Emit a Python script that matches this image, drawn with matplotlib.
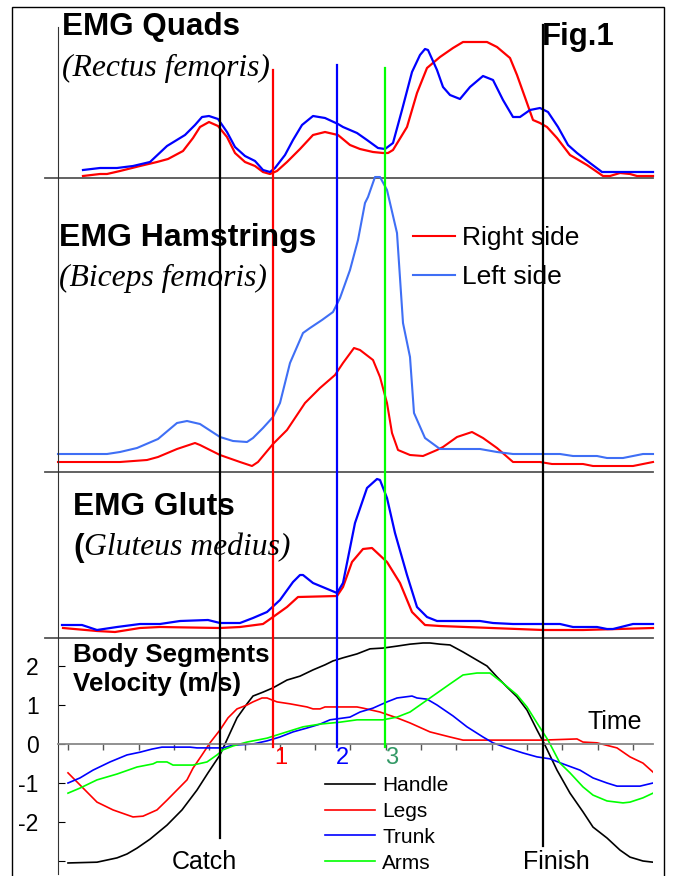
import matplotlib
matplotlib.use("Agg")
import numpy as np
import matplotlib.pyplot as plt
import matplotlib.transforms as mtransforms
from matplotlib.lines import Line2D
from matplotlib.patches import Rectangle

plt.rcParams['font.family'] = ['Liberation Sans', 'DejaVu Sans']

# time in samples (first x tick at 0, one tick every 35.3 samples)
# EMG amplitudes in arbitrary units, velocities in m/s

quads_right_t = [15, 32, 39, 52, 72, 89, 100, 115, 125, 132, 141, 150, 159, 167, 177, 187, 195, 202, 209, 219,
                 232, 245, 257, 270, 282, 292, 305, 315, 320, 325, 339, 349, 359, 372, 385, 395, 419, 429, 442, 449,
                 459, 465, 472, 479, 489, 502, 519, 535, 542, 552, 562, 569, 585]
quads_right = [2, 4, 4, 7, 12, 16, 19, 27, 40, 51, 56, 52, 41, 25, 16, 12, 6, 4, 7, 16,
               29, 43, 46, 43, 33, 29, 26, 25, 25, 28, 51, 85, 110, 121, 130, 136, 136, 131, 120, 103,
               75, 58, 55, 51, 40, 23, 13, 2, 2, 5, 4, 2, 2]

quads_left_t = [15, 32, 49, 65, 82, 99, 117, 127, 134, 141, 150, 159, 167, 177, 187, 195, 202, 207, 217, 225,
                234, 245, 257, 270, 275, 289, 299, 310, 317, 325, 334, 344, 352, 357, 360, 369, 375, 382, 392, 402,
                415, 425, 435, 445, 452, 462, 472, 480, 490, 500, 509, 522, 534, 549, 585]
quads_left = [8, 10, 10, 12, 16, 32, 43, 53, 61, 62, 59, 46, 31, 22, 17, 8, 6, 10, 23, 38,
              53, 62, 60, 54, 51, 45, 38, 30, 29, 35, 68, 106, 123, 129, 128, 108, 91, 83, 79, 91,
              102, 98, 78, 61, 61, 68, 70, 66, 51, 33, 25, 15, 6, 6, 6]

ham_right_t = [-10, 52, 79, 90, 109, 127, 132, 152, 172, 184, 190, 205, 219, 237, 252, 267, 275, 286, 292, 305,
               312, 319, 324, 330, 342, 355, 369, 375, 389, 404, 415, 429, 445, 472, 484, 515, 525, 565, 585]
ham_right = [10, 10, 12, 15, 23, 29, 27, 17, 10, 6, 10, 28, 42, 69, 84, 97, 109, 124, 122, 112,
             95, 69, 39, 22, 17, 16, 22, 25, 35, 40, 34, 24, 10, 10, 8, 8, 6, 6, 10]

ham_left_t = [-10, 39, 52, 69, 90, 109, 119, 132, 152, 165, 179, 185, 195, 205, 212, 222, 235, 242, 254, 265,
              272, 282, 290, 297, 300, 307, 312, 319, 329, 335, 342, 346, 357, 372, 412, 429, 445, 492, 505, 529,
              539, 555, 575, 585]
ham_left = [18, 18, 20, 24, 33, 49, 51, 48, 35, 31, 30, 34, 44, 55, 69, 109, 139, 144, 152, 160,
            174, 202, 232, 269, 275, 295, 295, 282, 239, 149, 115, 59, 34, 23, 23, 20, 18, 18, 16, 16,
            14, 14, 18, 18]

glut_right_t = [-5, 29, 47, 72, 92, 152, 172, 195, 205, 219, 230, 269, 275, 284, 295, 304, 319, 332, 344, 357,
                372, 475, 515, 585]
glut_right = [10, 7, 6, 10, 11, 10, 11, 14, 21, 31, 41, 42, 51, 76, 89, 90, 76, 55, 26, 13,
              12, 8, 8, 10]

glut_left_t = [-6, 14, 29, 49, 72, 92, 112, 140, 152, 172, 185, 199, 212, 225, 232, 235, 245, 257, 269, 275,
               287, 299, 309, 312, 319, 327, 339, 349, 359, 369, 412, 425, 445, 492, 505, 529, 539, 545, 565, 585]
glut_left = [13, 13, 8, 11, 14, 14, 17, 18, 15, 15, 20, 26, 38, 56, 63, 63, 55, 50, 45, 55,
             115, 150, 159, 158, 140, 105, 63, 31, 21, 17, 17, 15, 14, 14, 11, 11, 9, 9, 14, 14]

handle_t = [0, 29, 49, 59, 69, 82, 99, 114, 129, 140, 152, 162, 169, 179, 185, 195, 205, 219, 232, 245,
            257, 265, 275, 289, 302, 315, 329, 342, 355, 362, 372, 382, 395, 409, 419, 429, 439, 449, 459, 469,
            477, 489, 502, 515, 525, 539, 552, 562, 575, 585]
handle_v = [-3.05, -3.03, -2.92, -2.82, -2.67, -2.44, -2.08, -1.69, -1.18, -0.74, -0.28, 0.28, 0.67, 1.03, 1.23,
            1.33, 1.44, 1.64, 1.74, 1.90, 2.03, 2.13, 2.21, 2.31, 2.44, 2.46, 2.51, 2.56, 2.59, 2.59,
            2.56, 2.54, 2.36, 2.15, 2.00, 1.72, 1.46, 1.21, 0.87, 0.36, -0.03, -0.67, -1.26, -1.74, -2.13,
            -2.41, -2.72, -2.90, -3.00, -3.03]

legs_t = [0, 12, 29, 45, 65, 75, 89, 99, 109, 119, 125, 134, 142, 152, 160, 169, 179, 185, 194, 199,
          209, 222, 239, 245, 252, 257, 289, 295, 312, 329, 342, 362, 382, 395, 475, 509, 515, 529, 549, 562,
          575, 585]
legs_v = [-0.74, -1.05, -1.49, -1.69, -1.87, -1.85, -1.69, -1.44, -1.18, -0.92, -0.62, -0.28, 0.03, 0.36, 0.67,
          0.90, 1.00, 1.08, 1.18, 1.18, 1.08, 1.03, 0.95, 0.90, 0.90, 0.95, 0.95, 0.92, 0.82, 0.67,
          0.54, 0.31, 0.18, 0.10, 0.10, 0.13, 0.05, 0.03, -0.10, -0.33, -0.49, -0.72]

trunk_t = [0, 12, 25, 42, 59, 72, 84, 94, 122, 129, 155, 165, 185, 199, 212, 225, 239, 252, 262, 282,
           292, 305, 319, 329, 344, 349, 359, 369, 385, 399, 415, 425, 439, 455, 469, 482, 495, 512, 525, 539,
           549, 572, 585]
trunk_v = [-1.00, -0.87, -0.67, -0.46, -0.28, -0.21, -0.13, -0.08, -0.08, -0.10, -0.10, -0.03, 0.00, 0.08, 0.18,
           0.31, 0.41, 0.51, 0.62, 0.69, 0.82, 0.92, 1.08, 1.18, 1.23, 1.18, 1.15, 1.00, 0.72, 0.44,
           0.18, 0.03, -0.10, -0.23, -0.33, -0.38, -0.51, -0.67, -0.87, -1.00, -1.08, -1.08, -1.00]

arms_t = [0, 12, 29, 49, 69, 85, 89, 99, 105, 125, 139, 149, 155, 165, 179, 199, 215, 235, 252, 272,
          289, 315, 329, 342, 362, 382, 395, 409, 422, 435, 449, 459, 469, 480, 492, 502, 515, 525, 539, 555,
          562, 575, 585]
arms_v = [-1.26, -1.13, -0.92, -0.77, -0.59, -0.51, -0.46, -0.46, -0.54, -0.54, -0.46, -0.28, -0.15, -0.05, 0.05,
          0.15, 0.28, 0.44, 0.51, 0.56, 0.62, 0.62, 0.69, 0.82, 1.18, 1.54, 1.77, 1.82, 1.82, 1.56,
          1.26, 0.95, 0.54, 0.10, -0.49, -0.74, -1.10, -1.31, -1.46, -1.51, -1.49, -1.38, -1.26]

# stroke events: catch, markers 1-3, finish
event_t = [152, 205, 269, 317, 475]
event_colors = ['black', '#FF0000', '#0000FF', '#00FF00', 'black']
event_top_px = [75, 70, 65, 68, 25]
event_bottom_px = [838, 747, 747, 747, 846]

vel_ticks = [2, 1, 0, -1, -2, -3]
vel_ticklabels = ['2', '1', '0', '-1', '-2', '']

RED = '#FF0000'
BLUE = '#0000FF'
LIGHTBLUE = '#3F6FF5'
GREEN = '#00FF00'
GRAY = '#555555'

W, H = 674, 876
fig = plt.figure(figsize=(W / 100, H / 100), dpi=100)


def fx(px):
    return px / W


def fy(py):
    return 1 - py / H


def box(top, bottom):
    return [fx(58), fy(bottom), fx(653) - fx(58), (bottom - top) / H]


ax_q = fig.add_axes(box(27, 178))
ax_h = fig.add_axes(box(178, 472))
ax_g = fig.add_axes(box(472, 638))
ax_v = fig.add_axes(box(638, 874))

for ax, top in ((ax_q, 151), (ax_h, 294), (ax_g, 166)):
    ax.set_xlim(-10, 585)
    ax.set_ylim(0, top)
    ax.set_facecolor('none')
    for side in ('top', 'right', 'bottom'):
        ax.spines[side].set_visible(False)
    ax.spines['left'].set_color('#333333')
    ax.spines['left'].set_linewidth(0.8)
    ax.set_xticks([])
    ax.set_yticks([])
    ax.axhline(0, xmin=-13 / 595, xmax=1, color=GRAY, lw=1.3, clip_on=False, zorder=1)

ax_q.plot(quads_right_t, quads_right, color=RED, lw=1.6, clip_on=False)
ax_q.plot(quads_left_t, quads_left, color=BLUE, lw=1.6, clip_on=False)

l_right, = ax_h.plot(ham_right_t, ham_right, color=RED, lw=1.5, clip_on=False)
l_left, = ax_h.plot(ham_left_t, ham_left, color=LIGHTBLUE, lw=1.5, clip_on=False)

ax_g.plot(glut_right_t, glut_right, color=RED, lw=1.6, clip_on=False)
ax_g.plot(glut_left_t, glut_left, color=BLUE, lw=1.6, clip_on=False)

# velocity panel
ax_v.set_facecolor('none')
ax_v.set_xlim(-10, 585)
ax_v.set_ylim(-3.333, 2.718)
for side in ('top', 'right'):
    ax_v.spines[side].set_visible(False)
ax_v.spines['left'].set_color('#333333')
ax_v.spines['left'].set_linewidth(0.8)
ax_v.spines['bottom'].set_position(('data', 0))
ax_v.spines['bottom'].set_color('#888888')
ax_v.spines['bottom'].set_linewidth(1.3)
ax_v.set_xticks(np.arange(17) * 35.3)
ax_v.tick_params(axis='x', direction='out', length=4, width=1, color='#555555', labelbottom=False)
ax_v.set_yticks(vel_ticks)
ax_v.set_yticklabels(vel_ticklabels)
ax_v.tick_params(axis='y', direction='in', length=5, width=0.8, pad=14, labelsize=16.5)

lh, = ax_v.plot(handle_t, handle_v, color='black', lw=1.2)
lg, = ax_v.plot(legs_t, legs_v, color=RED, lw=1.2)
lt, = ax_v.plot(trunk_t, trunk_v, color=BLUE, lw=1.2)
la, = ax_v.plot(arms_t, arms_v, color=GREEN, lw=1.2)

# event lines across all panels
trans = mtransforms.blended_transform_factory(ax_v.transData, fig.transFigure)
for t, c, top, bot in zip(event_t, event_colors, event_top_px, event_bottom_px):
    fig.add_artist(Line2D([t, t], [fy(top), fy(bot)], transform=trans, color=c, lw=1.6, zorder=3))

# legends
ax_h.legend([l_right, l_left], ['Right side', 'Left side'], loc='upper left',
            bbox_to_anchor=(fx(413), fy(226)), bbox_transform=fig.transFigure,
            frameon=False, fontsize=19, handlelength=1.6, handletextpad=0.25,
            labelspacing=0.58, borderpad=0, borderaxespad=0)
ax_v.legend([lh, lg, lt, la], ['Handle', 'Legs', 'Trunk', 'Arms'], loc='upper left',
            bbox_to_anchor=(fx(325), fy(776)), bbox_transform=fig.transFigure,
            frameon=False, fontsize=15, handlelength=2.4, handletextpad=0.35,
            labelspacing=0.33, borderpad=0, borderaxespad=0)

# titles and labels
bold = dict(fontweight='bold', va='center', ha='left')
serif = dict(family='Liberation Serif', style='italic', va='center', ha='left')
fig.text(fx(62), fy(27), 'EMG Quads', fontsize=22.6, **bold)
fig.text(fx(62), fy(68), '(Rectus femoris)', fontsize=22.8, **serif)
fig.text(fx(542), fy(37), 'Fig.1', fontsize=22.4, **bold)
fig.text(fx(59), fy(238), 'EMG Hamstrings', fontsize=23, **bold)
fig.text(fx(59), fy(278), '(Biceps femoris)', fontsize=22.8, **serif)
fig.text(fx(73), fy(507), 'EMG Gluts', fontsize=22.8, **bold)
fig.text(fx(73), fy(548), '(', fontsize=22.8, **bold)
fig.text(fx(84), fy(548), 'Gluteus medius)', fontsize=22.8, **serif)
fig.text(fx(73), fy(655), 'Body Segments', fontsize=18.7, **bold)
fig.text(fx(73), fy(684), 'Velocity (m/s)', fontsize=18.7, **bold)
fig.text(fx(587), fy(722), 'Time', fontsize=18, va='center', ha='left')
fig.text(fx(204), fy(862), 'Catch', fontsize=18, va='center', ha='center')
fig.text(fx(556), fy(862), 'Finish', fontsize=18, va='center', ha='center')
fig.text(fx(281), fy(758), '1', fontsize=17, color=RED, va='center', ha='center')
fig.text(fx(342), fy(758), '2', fontsize=17, color=BLUE, va='center', ha='center')
fig.text(fx(392), fy(758), '3', fontsize=17, color='#339966', va='center', ha='center')

# outer frame
fig.add_artist(Rectangle((fx(12), -0.05), fx(664) - fx(12), fy(7) + 0.05, transform=fig.transFigure,
                         fill=False, edgecolor='black', lw=1.0))

fig.savefig('out.png', dpi=100)
